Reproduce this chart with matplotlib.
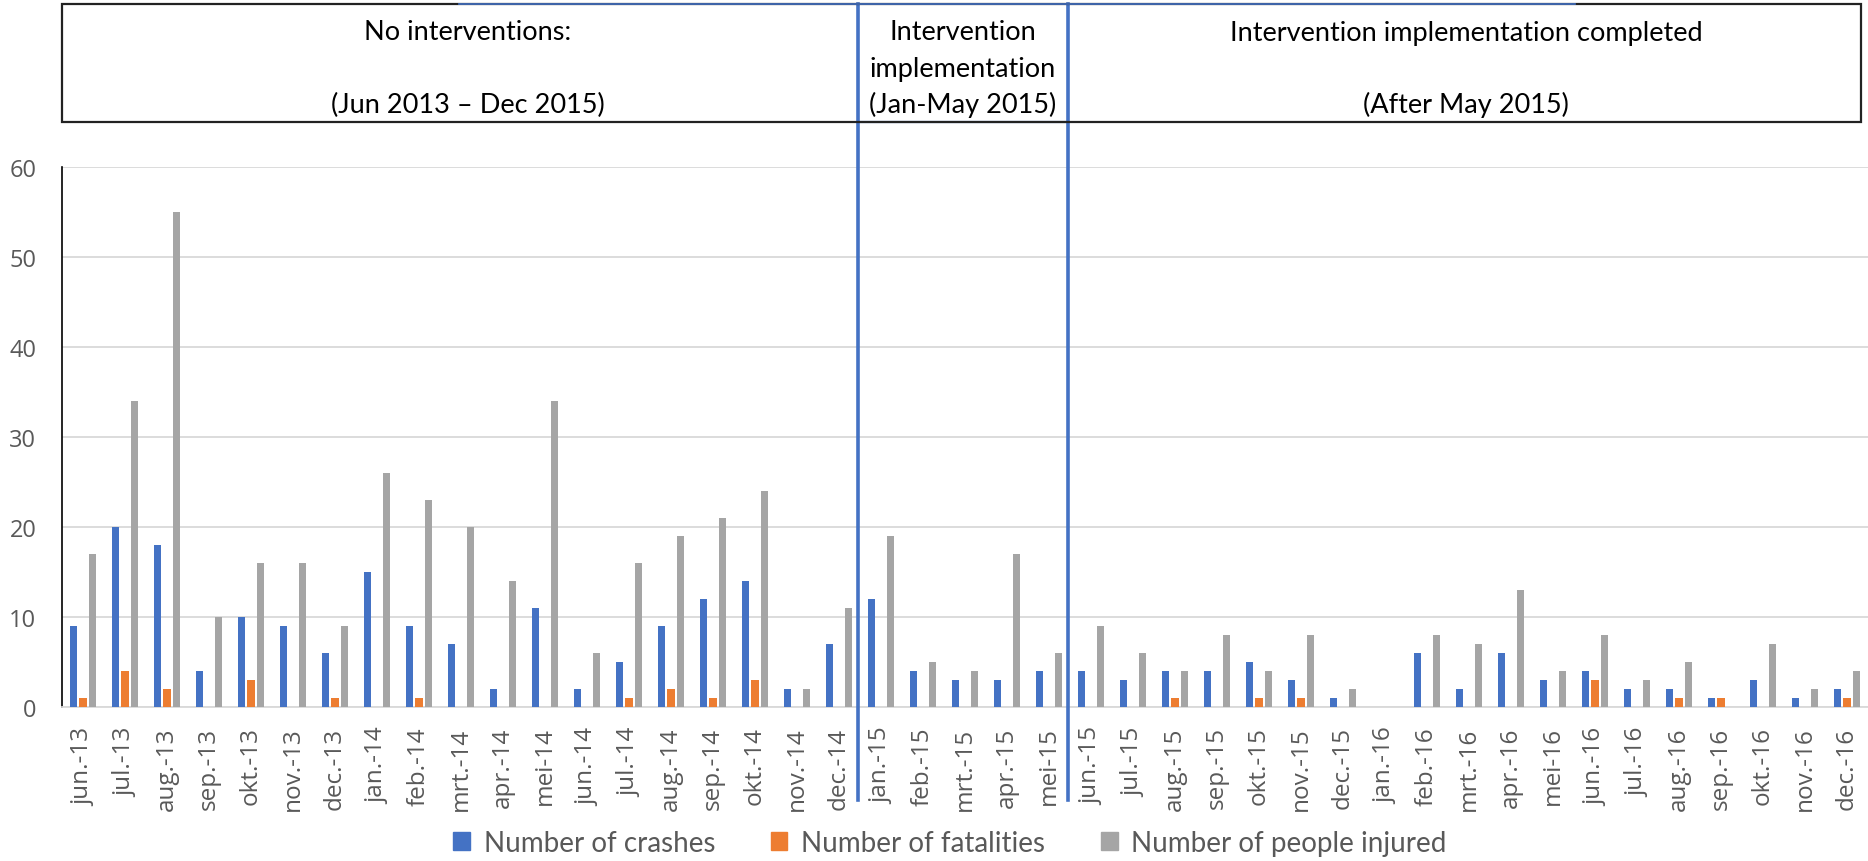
import numpy as np
import matplotlib
matplotlib.use("Agg")
import matplotlib.pyplot as plt
from matplotlib.transforms import blended_transform_factory
from matplotlib.lines import Line2D

months = ["jun.-13", "jul.-13", "aug.-13", "sep.-13", "okt.-13", "nov.-13", "dec.-13",
          "jan.-14", "feb.-14", "mrt.-14", "apr.-14", "mei-14", "jun.-14", "jul.-14",
          "aug.-14", "sep.-14", "okt.-14", "nov.-14", "dec.-14",
          "jan.-15", "feb.-15", "mrt.-15", "apr.-15", "mei-15", "jun.-15", "jul.-15",
          "aug.-15", "sep.-15", "okt.-15", "nov.-15", "dec.-15",
          "jan.-16", "feb.-16", "mrt.-16", "apr.-16", "mei-16", "jun.-16", "jul.-16",
          "aug.-16", "sep.-16", "okt.-16", "nov.-16", "dec.-16"]

crashes = [9, 20, 18, 4, 10, 9, 6, 15, 9, 7, 2, 11, 2, 5, 9, 12, 14, 2, 7,
           12, 4, 3, 3, 4, 4, 3, 4, 4, 5, 3, 1,
           0, 6, 2, 6, 3, 4, 2, 2, 1, 3, 1, 2]
fatalities = [1, 4, 2, 0, 3, 0, 1, 0, 1, 0, 0, 0, 0, 1, 2, 1, 3, 0, 0,
              0, 0, 0, 0, 0, 0, 0, 1, 0, 1, 1, 0,
              0, 0, 0, 0, 0, 3, 0, 1, 1, 0, 0, 1]
injured = [17, 34, 55, 10, 16, 16, 9, 26, 23, 20, 14, 34, 6, 16, 19, 21, 24, 2, 11,
           19, 5, 4, 17, 6, 9, 6, 4, 8, 4, 8, 2,
           0, 8, 7, 13, 4, 8, 3, 5, 0, 7, 2, 4]

series_names = ["Number of crashes", "Number of fatalities", "Number of people injured"]
colors = ["#4472C4", "#ED7D31", "#A5A5A5"]

# period boundaries (between dec-14/jan-15 and mei-15/jun-15)
period_breaks = [18.45, 23.45]
periods = [
    ("No interventions:", "", "(Jun 2013 \u2013 Dec 2015)"),
    ("Intervention", "implementation", "(Jan-May 2015)"),
    ("Intervention implementation completed", "", "(After May 2015)"),
]

W, H = 1868, 862
fig = plt.figure(figsize=(W / 100, H / 100), dpi=100)
ax = fig.add_axes([62 / W, 1 - 708 / H, 1806 / W, (708 - 168) / H])

x = np.arange(len(months))
bw = 0.17
off = 0.22
for i, (vals, c) in enumerate(zip([crashes, fatalities, injured], colors)):
    ax.bar(x + (i - 1) * off, vals, width=bw, color=c, zorder=3)

ax.set_xlim(-0.5, len(months) - 0.5)
ax.set_ylim(0, 60)
ax.set_yticks(range(0, 61, 10))
ax.yaxis.grid(True, color="#D9D9D9", linewidth=1.3, zorder=0)
ax.set_xticks(x)
ax.set_xticklabels(months, rotation=90, fontfamily="Open Sans", fontsize=17.5, color="#595959")
for lab in ax.get_yticklabels():
    lab.set_fontfamily("Open Sans")
    lab.set_fontsize(17)
    lab.set_color("#595959")
ax.tick_params(axis="both", length=0)
ax.tick_params(axis="y", pad=18.5)
ax.tick_params(axis="x", pad=14)
for s in ["top", "right"]:
    ax.spines[s].set_visible(False)
ax.spines["left"].set_color("black")
ax.spines["left"].set_linewidth(1.2)
ax.spines["bottom"].set_color("#D9D9D9")
ax.spines["bottom"].set_linewidth(1.3)

# header table above the chart
def fx(px):
    return px / W

def fy(py):
    return 1 - py / H

box_l, box_r, box_t, box_b = 62, 1861, 5, 123
fig.add_artist(plt.Rectangle((fx(box_l), fy(box_b)), fx(box_r - box_l), (box_b - box_t) / H,
                             fill=False, edgecolor="#222222", linewidth=1.6))
fig.add_artist(Line2D([fx(459), fx(1575)], [fy(box_t), fy(box_t)], color="#4472C4", linewidth=1.2))

trans = blended_transform_factory(ax.transData, fig.transFigure)
for xb in period_breaks:
    ax.plot([xb, xb], [fy(box_t), fy(801)], color="#4472C4", linewidth=2.6,
            transform=trans, clip_on=False, zorder=5)
ax.plot(period_breaks, [fy(box_b), fy(box_b)], color="#4472C4", linewidth=1.6,
        transform=trans, clip_on=False, zorder=5)

centers = [468, 963, 1466]
for cx, (l1, l2, l3) in zip(centers, periods):
    kw = dict(ha="center", va="center", fontfamily="Lato", fontsize=19.5, color="black")
    fig.text(fx(cx), fy(33), l1, **kw)
    if l2:
        fig.text(fx(cx), fy(69), l2, **kw)
    fig.text(fx(cx), fy(105), l3, **kw)

handles = [plt.Rectangle((0, 0), 1, 1, color=c) for c in colors]
leg = fig.legend(handles, series_names, loc="center", bbox_to_anchor=(950 / W, fy(844)),
                 ncol=3, frameon=False, handlelength=0.6, handleheight=0.6,
                 handletextpad=0.5, columnspacing=2.0,
                 prop={"family": "Lato", "size": 20})
for t in leg.get_texts():
    t.set_color("#595959")

fig.savefig("out.png", dpi=100, facecolor="white")
